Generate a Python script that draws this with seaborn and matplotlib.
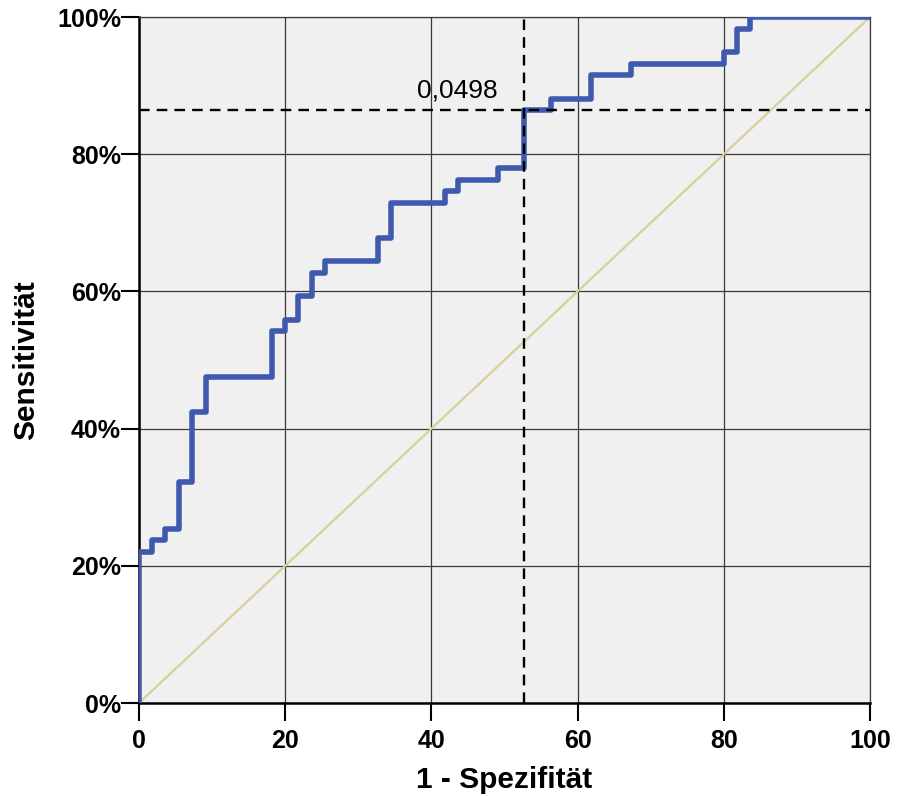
import matplotlib
matplotlib.use("Agg")
import matplotlib.pyplot as plt
import seaborn as sns
import pandas as pd
from matplotlib.ticker import FuncFormatter

# ROC points (1 - specificity in %, sensitivity in %) after each jump
fpr = [0, 0, 1.8, 3.6, 5.5, 7.3, 9.1, 18.2, 20.0, 21.8, 23.6, 25.5, 32.7, 34.5,
       41.8, 43.6, 49.1, 52.7, 56.4, 61.8, 67.3, 80.0, 81.8, 83.6, 100]
tpr = [0, 22.0, 23.7, 25.4, 32.2, 42.4, 47.5, 54.2, 55.9, 59.3, 62.7, 64.4, 67.8, 72.9,
       74.6, 76.3, 78.0, 86.4, 88.1, 91.5, 93.2, 94.9, 98.3, 100, 100]
diag_x = [0, 100]
diag_y = [0, 100]
cut_x = 52.7
cut_y = 86.4
cut_label = "0,0498"
x_ticks = [0, 20, 40, 60, 80, 100]
y_ticks = [0, 20, 40, 60, 80, 100]

sns.set_theme(style="white")
plt.rcParams['font.family'] = ['Liberation Sans', 'DejaVu Sans']

fig = plt.figure(figsize=(8.98, 7.96), dpi=100)
ax = fig.add_axes([0.1548, 0.1168, 0.8140, 0.8618])
ax.set_facecolor("#f0f0f0")

roc = pd.DataFrame({"fpr": fpr, "tpr": tpr})
diag = pd.DataFrame({"x": diag_x, "y": diag_y})

sns.lineplot(data=diag, x="x", y="y", ax=ax, color="#d6d09c", linewidth=1.6,
             estimator=None, sort=False, zorder=2)
sns.lineplot(data=roc, x="fpr", y="tpr", ax=ax, color="#3f59ae", linewidth=4,
             estimator=None, sort=False, drawstyle="steps-post", zorder=3)

ax.axvline(cut_x, color="black", linestyle=(0, (4.5, 3)), linewidth=1.7, zorder=4)
ax.axhline(cut_y, color="black", linestyle=(0, (4.5, 3)), linewidth=1.7, zorder=4)
ax.text(49.0, 88.3, cut_label, ha="right", va="baseline", fontsize=19,
        color="black", zorder=5)

ax.set_xlim(0, 100)
ax.set_ylim(0, 100)
ax.set_xticks(x_ticks)
ax.set_yticks(y_ticks)
ax.yaxis.set_major_formatter(FuncFormatter(lambda v, p: f"{int(v)}%"))
ax.grid(True, color="#3a3a3a", linewidth=0.9, zorder=1)
ax.set_axisbelow(True)

for s in ["left", "bottom"]:
    ax.spines[s].set_color("black")
    ax.spines[s].set_linewidth(1.8)
for s in ["top", "right"]:
    ax.spines[s].set_color("#3a3a3a")
    ax.spines[s].set_linewidth(0.9)

ax.tick_params(axis="both", which="major", direction="out", length=13, width=1.5,
               color="black", labelsize=18, labelcolor="black", bottom=True, left=True)
ax.tick_params(axis="y", pad=0)
ax.tick_params(axis="x", pad=6)
for lab in ax.get_xticklabels() + ax.get_yticklabels():
    lab.set_fontweight("bold")

ax.set_xlabel("1 - Spezifität", fontsize=21.5, fontweight="bold", labelpad=9, color="black")
ax.set_ylabel("Sensitivität", fontsize=21.5, fontweight="bold", labelpad=12, color="black")

fig.savefig("out.png", dpi=100)
